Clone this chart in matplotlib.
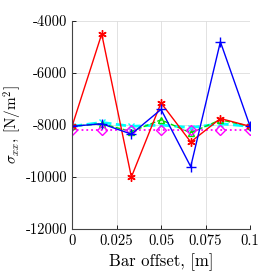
import numpy as np
from matplotlib import pyplot as plt

plt.rcParams['font.family'] = 'serif'
plt.rcParams['font.serif'] = ['cmr10']
plt.rcParams['mathtext.fontset'] = 'cm'
plt.rcParams['axes.formatter.use_mathtext'] = True

# Bar offsets and stress values
offset = [0, 1 / 60, 2 / 60, 3 / 60, 4 / 60, 5 / 60, 0.1]
stress_red = [-8050, -4500, -10000, -7150, -8650, -7750, -8050]
stress_blue = [-8050, -7950, -8350, -7400, -9600, -4800, -8050]
stress_green = [-8050, -7950, -8250, -7800, -8300, -7800, -8050]
stress_cyan = [-8050, -7900, -8050, -8000, -8100, -7950, -8050]
stress_magenta = [-8200, -8200, -8200, -8200, -8200, -8200, -8200]

fig = plt.figure(figsize=(2.76, 2.76), dpi=100)
ax = fig.add_axes([0.261, 0.170, 0.645, 0.754])

ax.plot(offset, stress_cyan, color='cyan', linestyle='--', linewidth=2, marker='x', markersize=5)
ax.plot(offset, stress_green, color='#00dd00', linestyle='--', linewidth=1, marker='^', markersize=5, markerfacecolor='none')
ax.plot(offset, stress_magenta, color='magenta', linestyle=':', linewidth=1.3, marker='D', markersize=5, markerfacecolor='none')
ax.plot(offset, stress_red, color='red', linestyle='-', linewidth=1, marker=(6, 2, 0), markersize=6)
ax.plot(offset, stress_blue, color='blue', linestyle='-', linewidth=1, marker='+', markersize=7)

ax.set_xlim(0, 0.1)
ax.set_ylim(-12000, -4000)
ax.set_xticks([0, 0.025, 0.05, 0.075, 0.1])
ax.set_xticklabels(['0', '0.025', '0.05', '0.075', '0.1'])
ax.set_yticks([-12000, -10000, -8000, -6000, -4000])
ax.set_yticklabels(['-12000', '-10000', '-8000', '-6000', '-4000'])
ax.tick_params(labelsize=10.5, direction='in', length=3, width=0.6)
ax.grid(True, color='#dddddd', linewidth=0.6)
for side in ['top', 'right']:
    ax.spines[side].set_visible(False)
for side in ['left', 'bottom']:
    ax.spines[side].set_linewidth(0.8)
    ax.spines[side].set_color('#444444')

ax.set_xlabel('Bar offset, [m]', fontsize=12)
ax.set_ylabel(r'$\sigma_{xx}$, [N/m$^2$]', fontsize=11)
ax.yaxis.set_label_coords(-0.27, 0.5)

plt.savefig('out.png', dpi=100)
